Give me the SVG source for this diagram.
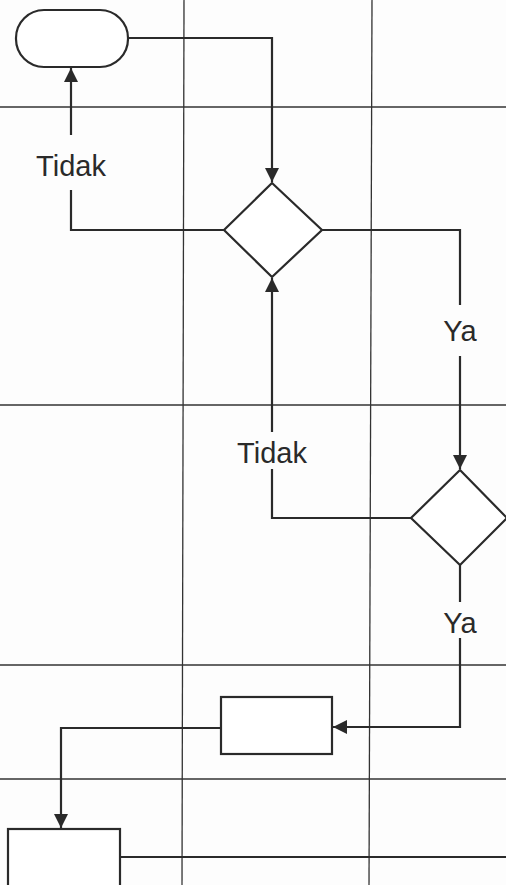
<svg xmlns="http://www.w3.org/2000/svg" width="506" height="885" viewBox="0 0 506 885">
<style>
.grid{stroke:#333;stroke-width:1.3;fill:none}
.node{fill:#fff;stroke:#2a2a2a;stroke-width:2.2}
.conn{fill:none;stroke:#2a2a2a;stroke-width:2.2}
.lbl{font-family:"Liberation Sans",Arial,sans-serif;font-size:29px;fill:#2a2a2a;text-anchor:middle}
</style>
<defs>
<marker id="arr" markerUnits="userSpaceOnUse" markerWidth="16" markerHeight="16" viewBox="0 0 16 16" refX="15" refY="8" orient="auto">
<path d="M1,1 L15,8 L1,15 Z" fill="#2a2a2a"/>
</marker>
</defs>
<rect width="506" height="885" fill="#fdfdfd"/>
<g id="grid">
<line class="grid" x1="184" y1="0" x2="182" y2="885"/>
<line class="grid" x1="372" y1="0" x2="369" y2="885"/>
<line class="grid" x1="0" y1="107" x2="506" y2="107"/>
<line class="grid" x1="0" y1="405" x2="506" y2="405"/>
<line class="grid" x1="0" y1="665" x2="506" y2="665"/>
<line class="grid" x1="0" y1="779" x2="506" y2="779"/>
</g>
<g id="connectors">
<path class="conn" d="M128,38 H272 V182" marker-end="url(#arr)"/>
<path class="conn" d="M224,230 H71 V190"/>
<path class="conn" d="M71,135 V68" marker-end="url(#arr)"/>
<path class="conn" d="M322,230 H460 V305"/>
<path class="conn" d="M460,356 V469" marker-end="url(#arr)"/>
<path class="conn" d="M411,518 H272 V469"/>
<path class="conn" d="M272,432 V278" marker-end="url(#arr)"/>
<path class="conn" d="M460,565 V602"/>
<path class="conn" d="M460,638 V727 H333" marker-end="url(#arr)"/>
<path class="conn" d="M220,728 H61 V828" marker-end="url(#arr)"/>
<path class="conn" d="M120,857 H506"/>
<text class="lbl" x="71" y="176">Tidak</text>
<text class="lbl" x="460" y="341">Ya</text>
<text class="lbl" x="272" y="463">Tidak</text>
<text class="lbl" x="460" y="633">Ya</text>
</g>
<g id="start"><rect class="node" x="16" y="10" width="112" height="57" rx="28" ry="28"/></g>
<g id="decision1"><polygon class="node" points="272,183 322,230 272,277 224,230"/></g>
<g id="decision2"><polygon class="node" points="460,470 507,518 460,565 411,518"/></g>
<g id="process1"><rect class="node" x="221" y="697" width="111" height="57"/></g>
<g id="process2"><rect class="node" x="8" y="829" width="112" height="60"/></g>
</svg>
